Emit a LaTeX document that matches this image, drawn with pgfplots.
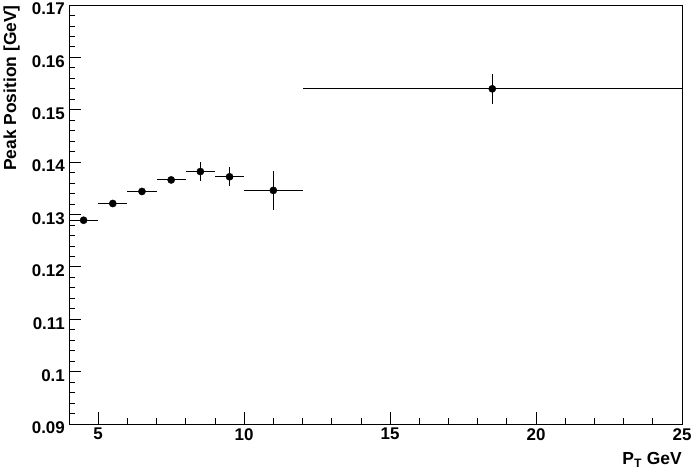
\documentclass[border=0pt]{standalone}
\usepackage{pgfplots}
\pgfplotsset{compat=1.18}
\usepackage{fontspec}
\setmainfont{Liberation Sans}
\begin{document}
\begin{tikzpicture}
\useasboundingbox (-69bp,-48bp) rectangle (627bp,424bp);
\begin{axis}[
  at={(0,0)}, anchor=south west,
  scale only axis, width=613bp, height=419bp,
  xmin=4, xmax=25, ymin=0.09, ymax=0.17,
  xtick={5,10,15,20,25}, ytick={0.09,0.1,0.11,0.12,0.13,0.14,0.15,0.16,0.17},
  minor x tick num=4, minor y tick num=4,
  xtick pos=bottom, ytick pos=left,
  tick align=inside,
  major tick length=12bp, minor tick length=6bp,
  every tick/.style={black, line width=0.8bp},
  axis line style={line width=0.9bp},
  scaled y ticks=false,
  /pgf/number format/assume math mode=true,
  yticklabel style={/pgf/number format/fixed, /pgf/number format/precision=2, inner sep=0pt, xshift=-4bp, yshift=-4bp},
  xticklabel style={inner sep=0pt, yshift=-4bp},
  tick label style={font=\fontsize{17}{19}\selectfont\bfseries},
  label style={font=\fontsize{17.5}{20}\selectfont\bfseries},
  xlabel={P\textsubscript{T} GeV},
  ylabel={Peak Position [GeV]},
  x label style={at={(axis description cs:1,-0.068)}, anchor=north east, inner sep=0pt},
  y label style={at={(axis description cs:-0.080,1)}, anchor=south east, inner sep=0pt},
]
\addplot[only marks, black, mark=*, mark size=3.6bp,
  error bars/.cd, x dir=both, x explicit, y dir=both, y explicit,
  error mark=none, error bar style={line width=1bp, black}]
  table[x=x, y=y, x error=ex, y error=ey] {
x     y       ex    ey
4.5   0.1289  0.5   0.0003
5.5   0.1321  0.5   0.0003
6.5   0.1344  0.5   0.0004
7.5   0.1366  0.5   0.0006
8.5   0.1382  0.5   0.0018
9.5   0.1372  0.5   0.0018
11    0.1346  1.0   0.0038
18.5  0.1540  6.5   0.0029
};
\end{axis}
\end{tikzpicture}
\end{document}
